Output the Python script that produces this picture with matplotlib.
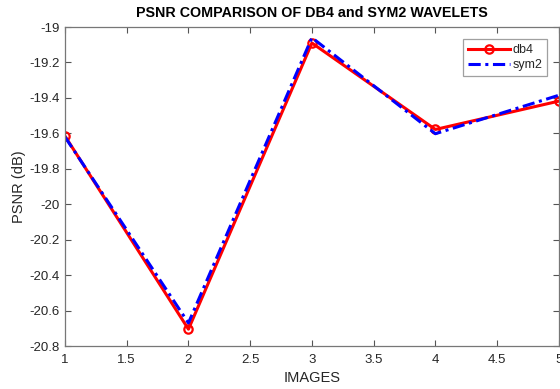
import matplotlib
matplotlib.use("Agg")
import matplotlib.pyplot as plt

images = [1, 2, 3, 4, 5]
db4 = [-19.615, -20.705, -19.09, -19.578, -19.418]
sym2 = [-19.62, -20.67, -19.06, -19.602, -19.385]
yticks = [-19, -19.2, -19.4, -19.6, -19.8, -20, -20.2, -20.4, -20.6, -20.8]
xticks = [1, 1.5, 2, 2.5, 3, 3.5, 4, 4.5, 5]

plt.rcParams['font.family'] = ['Liberation Sans', 'DejaVu Sans']
fig = plt.figure(figsize=(5.6, 3.89), dpi=100)
ax = fig.add_axes([0.116, 0.1105, 0.882, 0.82])

ax.plot(images, db4, color='red', linewidth=2.2, marker='o', markersize=6,
        markerfacecolor='none', markeredgewidth=1.6, label='db4')
ax.plot(images, sym2, color='blue', linewidth=2.2, linestyle=(0, (4, 1.5, 1, 1.5)), label='sym2')

ax.set_xlim(1, 5)
ax.set_ylim(-20.8, -19)
ax.set_xticks(xticks)
ax.set_xticklabels(['1', '1.5', '2', '2.5', '3', '3.5', '4', '4.5', '5'])
ax.set_yticks(yticks)
ax.set_yticklabels(['-19', '-19.2', '-19.4', '-19.6', '-19.8', '-20', '-20.2', '-20.4', '-20.6', '-20.8'])
gray = '#262626'
ax.tick_params(direction='in', top=True, right=True, length=4, width=0.8,
               colors='#555555', labelcolor=gray, labelsize=9.5)
ax.tick_params(axis='x', pad=6)
for s in ax.spines.values():
    s.set_color('#777777')
    s.set_linewidth(0.9)

ax.set_xlabel('IMAGES', fontsize=10.5, color=gray, labelpad=3)
ax.set_ylabel('PSNR (dB)', fontsize=10.5, color=gray, labelpad=3)
ax.set_title('PSNR COMPARISON OF DB4 and SYM2 WAVELETS', fontsize=10.3,
             fontweight='bold', color='black', pad=7)

leg = ax.legend(loc='upper right', bbox_to_anchor=(0.976, 0.962), fontsize=9,
                frameon=True, fancybox=False, handlelength=3.3, borderpad=0.4,
                labelspacing=0.25, handletextpad=0.2, borderaxespad=0)
leg.get_frame().set_edgecolor('#888888')
leg.get_frame().set_linewidth(0.9)
for t in leg.get_texts():
    t.set_color(gray)

fig.savefig('out.png', dpi=100)
